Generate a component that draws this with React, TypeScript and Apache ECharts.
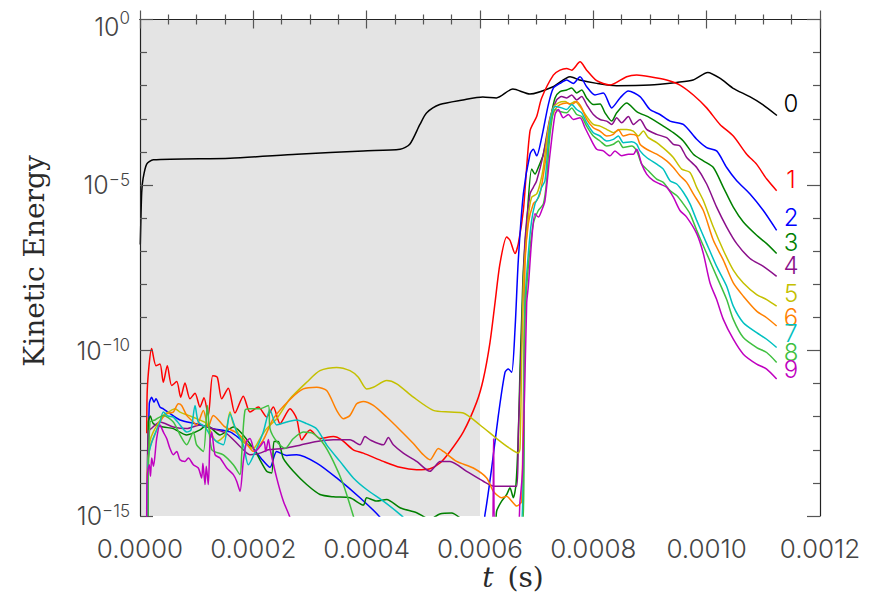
import React, { useEffect, useRef } from "react";
import * as echarts from "echarts";

// Time (s) and log10(kinetic energy), one array per mode.
const ke0: number[][] = [[0.0000005,-6.8],[3e-6,-5.22],[5.3e-6,-4.82],[1.18e-5,-4.37],[2.35e-5,-4.24],[1.59e-4,-4.19],[2.77e-4,-4.07],[3.94e-4,-3.97],[4.59e-4,-3.92],[4.76e-4,-3.77],[4.94e-4,-3.17],[5.06e-4,-2.82],[5.29e-4,-2.57],[5.70e-4,-2.43],[6.05e-4,-2.34],[6.29e-4,-2.37],[6.58e-4,-2.10],[6.88e-4,-2.25],[7.29e-4,-2.03],[7.59e-4,-1.73],[7.76e-4,-1.83],[8.06e-4,-1.93],[8.41e-4,-2.0],[9.0e-4,-1.98],[9.47e-4,-1.90],[9.76e-4,-1.83],[1.002e-3,-1.60],[1.024e-3,-1.78],[1.046e-3,-2.07],[1.076e-3,-2.33],[1.099e-3,-2.57],[1.124e-3,-2.90]];

const ke1: number[][] = [[1.2e-5,-12.5],[1.29e-5,-11.16],[2.06e-5,-9.94],[2.82e-5,-10.46],[3.53e-5,-10.41],[4.11e-5,-10.96],[4.82e-5,-10.46],[5.59e-5,-11.06],[6.48e-5,-10.94],[7.18e-5,-11.41],[7.94e-5,-10.98],[8.82e-5,-11.46],[9.71e-5,-11.29],[1.059e-4,-11.71],[1.129e-4,-11.43],[1.205e-4,-11.96],[1.283e-4,-10.76],[1.364e-4,-10.81],[1.442e-4,-11.46],[1.558e-4,-11.14],[1.676e-4,-11.89],[1.823e-4,-11.38],[1.941e-4,-11.86],[2.088e-4,-11.71],[2.236e-4,-12.01],[2.353e-4,-11.71],[2.471e-4,-12.21],[2.647e-4,-11.76],[2.765e-4,-12.06],[2.853e-4,-12.70],[3.0e-4,-12.40],[3.176e-4,-12.66],[3.412e-4,-12.60],[3.559e-4,-12.70],[3.764e-4,-13.00],[3.941e-4,-13.10],[4.294e-4,-13.35],[4.588e-4,-13.53],[4.882e-4,-13.60],[5.118e-4,-13.57],[5.294e-4,-13.40],[5.471e-4,-13.05],[5.706e-4,-12.46],[5.941e-4,-11.56],[6.059e-4,-10.86],[6.176e-4,-9.76],[6.265e-4,-8.56],[6.353e-4,-7.37],[6.471e-4,-6.57],[6.529e-4,-6.67],[6.618e-4,-7.07],[6.676e-4,-6.77],[6.765e-4,-5.77],[6.882e-4,-3.37],[7.0e-4,-2.93],[7.088e-4,-2.37],[7.294e-4,-1.68],[7.412e-4,-1.53],[7.53e-4,-1.48],[7.618e-4,-1.53],[7.765e-4,-1.28],[7.882e-4,-1.53],[8.059e-4,-1.85],[8.294e-4,-1.98],[8.588e-4,-1.73],[8.765e-4,-1.68],[9.0e-4,-1.73],[9.294e-4,-1.83],[9.529e-4,-1.98],[9.765e-4,-2.28],[1.0e-3,-2.67],[1.0235e-3,-3.17],[1.047e-3,-3.52],[1.0706e-3,-4.07],[1.088e-3,-4.37],[1.106e-3,-4.82],[1.1235e-3,-5.17]];

const ke2: number[][] = [[1.3e-5,-15.0],[1.64e-5,-11.61],[2.06e-5,-11.41],[2.47e-5,-11.56],[2.82e-5,-11.46],[3.53e-5,-11.71],[4.11e-5,-11.76],[7.06e-5,-12.10],[1.0e-4,-12.22],[1.288e-4,-12.36],[1.588e-4,-12.46],[1.823e-4,-12.75],[1.994e-4,-12.96],[2.153e-4,-13.29],[2.294e-4,-13.53],[2.412e-4,-13.05],[2.588e-4,-13.17],[2.765e-4,-13.15],[3.118e-4,-13.40],[3.471e-4,-13.85],[3.882e-4,-14.45],[4.235e-4,-15.04],[4.4e-4,-15.6],[6.0e-4,-15.6],[6.088e-4,-14.95],[6.206e-4,-13.55],[6.324e-4,-11.96],[6.441e-4,-10.66],[6.5e-4,-10.56],[6.559e-4,-10.66],[6.618e-4,-9.36],[6.676e-4,-7.27],[6.765e-4,-5.27],[6.882e-4,-4.07],[6.941e-4,-3.92],[7.0e-4,-4.12],[7.088e-4,-3.57],[7.206e-4,-2.57],[7.294e-4,-2.07],[7.412e-4,-1.93],[7.53e-4,-1.83],[7.647e-4,-1.93],[7.765e-4,-1.73],[7.882e-4,-2.03],[8.029e-4,-2.28],[8.176e-4,-2.22],[8.324e-4,-2.67],[8.471e-4,-2.37],[8.618e-4,-2.16],[8.824e-4,-2.33],[9.0e-4,-2.72],[9.176e-4,-2.87],[9.353e-4,-3.07],[9.588e-4,-3.17],[9.824e-4,-3.62],[1.0e-3,-3.87],[1.0176e-3,-3.97],[1.0353e-3,-4.47],[1.053e-3,-4.87],[1.0765e-3,-5.27],[1.1e-3,-5.77],[1.1235e-3,-6.37]];

const ke3: number[][] = [[1.41e-5,-15.0],[1.46e-5,-12.16],[1.82e-5,-11.98],[2.35e-5,-12.21],[4.11e-5,-12.31],[5.88e-5,-12.36],[8.24e-5,-12.55],[1.059e-4,-12.40],[1.176e-4,-12.25],[1.412e-4,-12.55],[1.647e-4,-12.31],[2.0e-4,-12.96],[2.235e-4,-13.65],[2.324e-4,-13.70],[2.365e-4,-12.75],[2.44e-4,-12.75],[2.529e-4,-13.26],[2.706e-4,-13.65],[2.941e-4,-14.05],[3.176e-4,-14.35],[3.412e-4,-14.42],[3.706e-4,-14.45],[3.941e-4,-14.67],[4.0e-4,-14.45],[4.176e-4,-14.55],[4.353e-4,-14.50],[4.588e-4,-14.75],[4.882e-4,-14.90],[5.118e-4,-15.1],[5.29e-4,-14.94],[5.5e-4,-14.91],[5.68e-4,-15.1],[6.0e-4,-15.5],[6.25e-4,-15.5],[6.294e-4,-14.85],[6.382e-4,-14.55],[6.471e-4,-14.35],[6.529e-4,-14.15],[6.588e-4,-14.45],[6.635e-4,-14.05],[6.676e-4,-12.55],[6.706e-4,-10.56],[6.735e-4,-9.06],[6.765e-4,-7.57],[6.824e-4,-6.17],[6.912e-4,-4.52],[6.971e-4,-4.67],[7.029e-4,-4.47],[7.118e-4,-4.07],[7.235e-4,-3.07],[7.324e-4,-2.37],[7.412e-4,-2.18],[7.53e-4,-2.13],[7.618e-4,-2.07],[7.706e-4,-2.22],[7.794e-4,-2.13],[7.882e-4,-2.37],[8.0e-4,-2.57],[8.118e-4,-2.55],[8.206e-4,-2.82],[8.324e-4,-3.07],[8.412e-4,-2.82],[8.588e-4,-2.52],[8.765e-4,-2.78],[9.0e-4,-2.97],[9.235e-4,-3.22],[9.412e-4,-3.42],[9.588e-4,-3.67],[9.765e-4,-4.07],[9.941e-4,-4.27],[1.0118e-3,-4.47],[1.0294e-3,-5.07],[1.047e-3,-5.67],[1.0647e-3,-6.12],[1.0882e-3,-6.52],[1.1059e-3,-6.77],[1.1235e-3,-7.07]];

const ke4: number[][] = [[1.24e-5,-15.0],[1.46e-5,-12.46],[2.1e-5,-12.34],[3.53e-5,-12.16],[5.88e-5,-12.31],[8.24e-5,-12.36],[1.059e-4,-12.25],[1.294e-4,-12.37],[1.529e-4,-12.51],[1.765e-4,-12.90],[1.941e-4,-13.15],[2.118e-4,-13.10],[2.265e-4,-13.0],[2.529e-4,-12.96],[2.824e-4,-12.86],[3.118e-4,-12.75],[3.412e-4,-12.70],[3.706e-4,-12.70],[3.882e-4,-12.85],[3.971e-4,-12.60],[4.059e-4,-12.70],[4.294e-4,-12.85],[4.382e-4,-12.63],[4.47e-4,-12.85],[4.647e-4,-13.10],[4.882e-4,-13.35],[5.118e-4,-13.65],[5.206e-4,-13.50],[5.294e-4,-13.35],[5.471e-4,-13.35],[5.765e-4,-13.65],[6.059e-4,-13.95],[6.253e-4,-14.10],[6.647e-4,-14.10],[6.676e-4,-12.55],[6.735e-4,-9.56],[6.794e-4,-6.67],[6.882e-4,-5.27],[6.941e-4,-5.07],[7.0e-4,-4.87],[7.118e-4,-4.07],[7.235e-4,-2.97],[7.353e-4,-2.43],[7.441e-4,-2.33],[7.53e-4,-2.37],[7.618e-4,-2.28],[7.706e-4,-2.43],[7.794e-4,-2.33],[7.882e-4,-2.57],[8.0e-4,-2.87],[8.118e-4,-3.02],[8.235e-4,-3.07],[8.324e-4,-3.17],[8.412e-4,-2.97],[8.5e-4,-3.12],[8.618e-4,-2.93],[8.706e-4,-3.17],[8.824e-4,-3.02],[8.941e-4,-3.32],[9.118e-4,-3.47],[9.294e-4,-3.57],[9.412e-4,-3.77],[9.529e-4,-3.82],[9.647e-4,-4.17],[9.824e-4,-4.47],[1.0e-3,-4.97],[1.0176e-3,-5.67],[1.0353e-3,-6.27],[1.053e-3,-6.77],[1.0765e-3,-7.22],[1.1e-3,-7.46],[1.1235e-3,-7.76]];

const ke5: number[][] = [[1.18e-5,-13.95],[1.76e-5,-12.75],[2.35e-5,-12.46],[4.11e-5,-11.96],[5.0e-5,-11.86],[6.18e-5,-11.76],[7.06e-5,-11.86],[8.53e-5,-11.96],[1.0e-4,-12.06],[1.176e-4,-12.21],[1.353e-4,-12.75],[1.5e-4,-12.55],[1.588e-4,-11.86],[1.647e-4,-12.21],[1.823e-4,-12.75],[2.0e-4,-12.96],[2.118e-4,-12.66],[2.235e-4,-12.36],[2.412e-4,-12.06],[2.647e-4,-11.46],[2.941e-4,-10.96],[3.176e-4,-10.61],[3.471e-4,-10.51],[3.706e-4,-10.61],[3.853e-4,-10.81],[4.0e-4,-11.16],[4.118e-4,-11.11],[4.353e-4,-10.91],[4.53e-4,-11.01],[4.824e-4,-11.41],[5.176e-4,-11.81],[5.471e-4,-11.86],[5.706e-4,-11.89],[6.0e-4,-12.25],[6.294e-4,-12.66],[6.529e-4,-12.96],[6.676e-4,-13.10],[6.706e-4,-12.96],[6.765e-4,-8.06],[6.853e-4,-5.97],[6.912e-4,-5.37],[7.0e-4,-5.27],[7.059e-4,-4.97],[7.118e-4,-4.47],[7.206e-4,-3.27],[7.294e-4,-2.67],[7.382e-4,-2.52],[7.5e-4,-2.48],[7.588e-4,-2.55],[7.676e-4,-2.48],[7.765e-4,-2.63],[7.882e-4,-2.93],[8.0e-4,-3.17],[8.118e-4,-3.22],[8.235e-4,-3.32],[8.353e-4,-3.42],[8.471e-4,-3.32],[8.588e-4,-3.32],[8.706e-4,-3.37],[8.794e-4,-3.52],[8.882e-4,-3.37],[8.971e-4,-3.57],[9.118e-4,-3.72],[9.294e-4,-3.97],[9.412e-4,-4.17],[9.559e-4,-4.52],[9.706e-4,-4.62],[9.824e-4,-5.07],[9.941e-4,-5.47],[1.0118e-3,-6.27],[1.0294e-3,-6.97],[1.047e-3,-7.57],[1.0647e-3,-7.96],[1.0882e-3,-8.31],[1.1059e-3,-8.46],[1.1235e-3,-8.66]];

const ke6: number[][] = [[1.3e-5,-15.0],[1.46e-5,-13.25],[1.88e-5,-12.85],[2.35e-5,-12.66],[3.53e-5,-12.16],[4.71e-5,-11.91],[5.88e-5,-11.86],[6.76e-5,-11.61],[7.35e-5,-11.66],[8.24e-5,-11.96],[9.12e-5,-12.11],[1.0e-4,-12.25],[1.118e-4,-11.81],[1.206e-4,-12.31],[1.294e-4,-11.96],[1.5e-4,-12.31],[1.676e-4,-12.46],[1.823e-4,-12.66],[2.0e-4,-13.05],[2.176e-4,-12.70],[2.353e-4,-12.06],[2.647e-4,-11.48],[2.882e-4,-11.16],[3.118e-4,-11.11],[3.294e-4,-11.21],[3.471e-4,-11.81],[3.588e-4,-12.06],[3.706e-4,-11.96],[3.824e-4,-11.61],[3.941e-4,-11.54],[4.118e-4,-11.66],[4.353e-4,-12.01],[4.588e-4,-12.40],[4.824e-4,-12.81],[5.0e-4,-13.15],[5.118e-4,-13.30],[5.265e-4,-12.96],[5.353e-4,-13.05],[5.588e-4,-13.35],[5.882e-4,-13.55],[6.118e-4,-13.85],[6.235e-4,-14.25],[6.382e-4,-14.45],[6.471e-4,-14.40],[6.559e-4,-14.55],[6.647e-4,-14.70],[6.735e-4,-14.55],[6.794e-4,-7.46],[6.853e-4,-6.17],[6.941e-4,-5.57],[7.0e-4,-5.47],[7.059e-4,-5.27],[7.147e-4,-4.37],[7.235e-4,-3.17],[7.324e-4,-2.72],[7.412e-4,-2.57],[7.53e-4,-2.52],[7.618e-4,-2.57],[7.706e-4,-2.48],[7.794e-4,-2.67],[7.882e-4,-3.02],[8.0e-4,-3.27],[8.118e-4,-3.37],[8.235e-4,-3.52],[8.353e-4,-3.47],[8.441e-4,-3.32],[8.529e-4,-3.52],[8.647e-4,-3.47],[8.765e-4,-3.52],[8.824e-4,-3.77],[8.941e-4,-3.92],[9.118e-4,-4.07],[9.294e-4,-4.27],[9.412e-4,-4.47],[9.529e-4,-4.72],[9.647e-4,-4.92],[9.765e-4,-5.27],[9.941e-4,-5.77],[1.0118e-3,-6.67],[1.0294e-3,-7.27],[1.047e-3,-7.96],[1.0647e-3,-8.36],[1.0882e-3,-8.81],[1.1059e-3,-9.01],[1.1235e-3,-9.26]];

const ke7: number[][] = [[1.3e-5,-15.0],[1.46e-5,-13.25],[2.12e-5,-12.75],[3.53e-5,-12.16],[4.11e-5,-11.86],[4.94e-5,-11.98],[5.88e-5,-12.01],[7.06e-5,-12.25],[8.24e-5,-12.46],[9.0e-5,-12.40],[9.71e-5,-11.66],[1.029e-4,-12.16],[1.147e-4,-12.31],[1.235e-4,-12.55],[1.353e-4,-12.75],[1.471e-4,-12.85],[1.588e-4,-11.92],[1.706e-4,-12.46],[1.823e-4,-12.85],[1.912e-4,-13.45],[2.059e-4,-12.96],[2.176e-4,-12.46],[2.294e-4,-11.80],[2.412e-4,-12.25],[2.588e-4,-12.16],[2.765e-4,-12.10],[2.941e-4,-12.21],[3.118e-4,-12.37],[3.294e-4,-12.85],[3.529e-4,-13.35],[3.765e-4,-13.85],[4.0e-4,-14.20],[4.294e-4,-14.55],[4.588e-4,-14.95],[4.676e-4,-15.1],[4.85e-4,-15.5],[6.706e-4,-15.5],[6.794e-4,-8.56],[6.853e-4,-7.07],[6.912e-4,-6.07],[6.971e-4,-5.57],[7.029e-4,-5.37],[7.088e-4,-5.07],[7.147e-4,-4.87],[7.235e-4,-3.17],[7.324e-4,-2.63],[7.441e-4,-2.67],[7.53e-4,-2.72],[7.618e-4,-2.57],[7.706e-4,-2.72],[7.794e-4,-2.82],[7.882e-4,-3.12],[8.0e-4,-3.42],[8.118e-4,-3.52],[8.235e-4,-3.67],[8.353e-4,-3.62],[8.441e-4,-3.52],[8.529e-4,-3.72],[8.676e-4,-3.69],[8.765e-4,-3.77],[8.824e-4,-3.97],[8.941e-4,-4.17],[9.118e-4,-4.37],[9.235e-4,-4.52],[9.353e-4,-4.87],[9.471e-4,-4.97],[9.588e-4,-5.22],[9.706e-4,-5.57],[9.824e-4,-6.07],[1.0e-3,-6.77],[1.0176e-3,-7.46],[1.0353e-3,-8.06],[1.047e-3,-8.66],[1.0647e-3,-9.16],[1.0882e-3,-9.46],[1.1059e-3,-9.66],[1.1235e-3,-9.91]];

const ke8: number[][] = [[1.41e-5,-15.0],[1.76e-5,-12.16],[2.65e-5,-12.10],[4.11e-5,-11.96],[5.88e-5,-12.16],[7.06e-5,-12.55],[8.24e-5,-12.85],[9.41e-5,-12.46],[1.0e-4,-12.85],[1.118e-4,-13.05],[1.188e-4,-11.66],[1.265e-4,-12.99],[1.471e-4,-13.15],[1.647e-4,-13.45],[1.765e-4,-13.75],[1.794e-4,-13.15],[1.853e-4,-11.81],[1.941e-4,-11.76],[2.118e-4,-11.76],[2.265e-4,-11.66],[2.294e-4,-12.36],[2.412e-4,-12.75],[2.559e-4,-12.96],[2.706e-4,-12.66],[2.882e-4,-12.46],[3.059e-4,-12.51],[3.235e-4,-12.81],[3.412e-4,-13.35],[3.588e-4,-14.05],[3.765e-4,-15.0],[3.85e-4,-15.5],[6.74e-4,-15.5],[6.794e-4,-9.06],[6.853e-4,-7.46],[6.941e-4,-6.17],[7.029e-4,-5.77],[7.118e-4,-5.57],[7.176e-4,-4.87],[7.235e-4,-3.47],[7.324e-4,-2.72],[7.412e-4,-2.78],[7.53e-4,-2.82],[7.618e-4,-2.67],[7.706e-4,-2.87],[7.794e-4,-2.93],[7.882e-4,-3.22],[8.0e-4,-3.52],[8.118e-4,-3.67],[8.235e-4,-3.82],[8.353e-4,-3.77],[8.441e-4,-3.67],[8.529e-4,-3.87],[8.676e-4,-3.82],[8.765e-4,-3.97],[8.853e-4,-4.37],[8.971e-4,-4.57],[9.118e-4,-4.82],[9.235e-4,-4.92],[9.353e-4,-5.17],[9.471e-4,-5.32],[9.588e-4,-5.57],[9.706e-4,-5.87],[9.824e-4,-6.37],[1.0e-3,-7.07],[1.0176e-3,-7.76],[1.0353e-3,-8.46],[1.047e-3,-9.06],[1.0647e-3,-9.61],[1.0882e-3,-9.91],[1.1059e-3,-10.06],[1.1235e-3,-10.36]];

const ke9: number[][] = [[1.18e-5,-15.05],[1.29e-5,-13.75],[1.64e-5,-13.45],[1.85e-5,-13.80],[2.06e-5,-13.25],[2.38e-5,-13.50],[2.94e-5,-12.66],[3.53e-5,-12.25],[4.11e-5,-12.46],[4.71e-5,-12.66],[5.29e-5,-12.96],[5.88e-5,-13.15],[6.48e-5,-13.05],[7.06e-5,-13.30],[7.94e-5,-13.35],[8.53e-5,-13.25],[9.41e-5,-13.45],[1.029e-4,-13.55],[1.088e-4,-13.85],[1.11e-4,-13.41],[1.147e-4,-14.05],[1.17e-4,-13.50],[1.205e-4,-14.05],[1.235e-4,-12.75],[1.265e-4,-12.46],[1.324e-4,-13.15],[1.412e-4,-13.25],[1.53e-4,-13.55],[1.647e-4,-13.75],[1.706e-4,-13.95],[1.765e-4,-14.25],[1.823e-4,-13.35],[1.882e-4,-12.75],[1.941e-4,-12.66],[2.029e-4,-13.05],[2.118e-4,-12.90],[2.188e-4,-12.75],[2.22e-4,-13.05],[2.265e-4,-12.69],[2.294e-4,-12.96],[2.412e-4,-13.85],[2.529e-4,-14.55],[2.647e-4,-15.05],[2.7e-4,-15.5],[6.21e-4,-15.5],[6.24e-4,-12.66],[6.26e-4,-15.5],[6.64e-4,-15.5],[6.706e-4,-14.55],[6.753e-4,-13.55],[6.824e-4,-8.56],[6.853e-4,-8.06],[6.912e-4,-6.67],[6.971e-4,-5.87],[7.029e-4,-5.97],[7.088e-4,-5.77],[7.147e-4,-5.47],[7.235e-4,-4.07],[7.324e-4,-2.87],[7.382e-4,-2.72],[7.471e-4,-2.97],[7.559e-4,-2.87],[7.647e-4,-3.02],[7.765e-4,-2.97],[7.853e-4,-3.27],[7.941e-4,-3.57],[8.059e-4,-3.92],[8.176e-4,-3.97],[8.294e-4,-4.12],[8.382e-4,-3.97],[8.5e-4,-4.12],[8.618e-4,-4.07],[8.706e-4,-4.07],[8.765e-4,-3.92],[8.853e-4,-4.37],[8.941e-4,-4.67],[9.059e-4,-4.87],[9.176e-4,-4.97],[9.294e-4,-5.07],[9.412e-4,-5.37],[9.529e-4,-5.77],[9.647e-4,-5.97],[9.824e-4,-6.47],[9.941e-4,-7.07],[1.0059e-3,-7.96],[1.0176e-3,-8.46],[1.0294e-3,-9.06],[1.047e-3,-9.66],[1.0647e-3,-10.11],[1.0882e-3,-10.41],[1.1059e-3,-10.56],[1.1235e-3,-10.86]];

const modeNames = ["0", "1", "2", "3", "4", "5", "6", "7", "8", "9"];
const modeColors = ["#000000", "#ff0000", "#0000ff", "#008000", "#8b108b", "#c4c000", "#ff8000", "#00c0c0", "#40c040", "#c000c0"];
const modeSeries = [ke0, ke1, ke2, ke3, ke4, ke5, ke6, ke7, ke8, ke9];
// Right-hand curve labels: vertical position given in log10(E)
const labelLogE = [-2.66, -4.95, -6.07, -6.82, -7.52, -8.36, -9.06, -9.56, -10.11, -10.61];
const xTicks = { min: 0, max: 0.0012, step: 0.0002 };
const yDecades = { min: -15, max: 0, step: 5 };
const shadedUntil = 0.0006;

const tickFont = "Inter, 'DejaVu Sans', sans-serif";
const tickColor = "#444";

export default function App() {
  const ref = useRef<HTMLDivElement>(null);
  useEffect(() => {
    if (!ref.current) return;
    const chart = echarts.init(ref.current, undefined, { renderer: "svg" });
    const gridL = 140, gridT = 14, gridW = 680, gridH = 502;
    const axisCommon = {
      min: xTicks.min,
      max: xTicks.max,
      interval: xTicks.step,
      z: 10,
      splitLine: { show: false },
      axisLine: { show: true, lineStyle: { color: "#222", width: 1.2 } },
      axisTick: { show: true, inside: true, length: 9, lineStyle: { color: "#555", width: 1.2 } },
      minorTick: { show: true, splitNumber: 4, length: 5, lineStyle: { color: "#555", width: 1.2 } },
    };
    const yCommon = {
      type: "value",
      min: yDecades.min,
      max: yDecades.max,
      interval: yDecades.step,
      z: 10,
      splitLine: { show: false },
      axisLine: { show: true, onZero: false, lineStyle: { color: "#222", width: 1.2 } },
      axisTick: { show: true, inside: true, length: 13, lineStyle: { color: "#555", width: 1.2 } },
      minorTick: { show: true, splitNumber: 5, length: 7, lineStyle: { color: "#555", width: 1.2 } },
    };
    const supText = (v: number) => (v === 0 ? "0" : "\u2212" + String(-v));
    const series: any[] = [
      {
        type: "line",
        data: [[0, -20]],
        z: 1,
        silent: true,
        symbol: "none",
        lineStyle: { opacity: 0 },
        markArea: {
          silent: true,
          itemStyle: { color: "#e4e4e4" },
          data: [[{ xAxis: 0 }, { xAxis: shadedUntil }]],
        },
      },
    ];
    modeSeries.forEach((d, i) => {
      series.push({
        type: "line",
        name: modeNames[i],
        data: d,
        z: 2 + i,
        symbol: "none",
        showSymbol: false,
        clip: true,
        smooth: 0.25,
        lineStyle: { color: modeColors[i], width: 1.5 },
        itemStyle: { color: modeColors[i] },
      });
    });
    const yToPx = (v: number) => gridT + ((yDecades.max - v) / (yDecades.max - yDecades.min)) * gridH;
    const graphics: any[] = modeNames.map((n, i) => ({
      type: "text",
      x: 791,
      y: yToPx(labelLogE[i]),
      z: 20,
      style: {
        text: n,
        fill: modeColors[i],
        font: `300 24px ${tickFont}`,
        textAlign: "center",
        textVerticalAlign: "middle",
      },
    }));
    graphics.push({
      type: "text",
      x: 34,
      y: 261,
      rotation: Math.PI / 2,
      z: 20,
      style: {
        text: "Kinetic Energy",
        fill: "#2a2a2a",
        font: "28px 'DejaVu Serif', serif",
        textAlign: "center",
        textVerticalAlign: "middle",
      },
    });
    graphics.push({
      type: "text",
      x: 513,
      y: 577,
      z: 20,
      style: {
        text: "{i|t}{r|\u2002(s)}",
        textAlign: "center",
        textVerticalAlign: "middle",
        rich: {
          i: { font: "italic 28px 'DejaVu Serif', serif", fill: "#2a2a2a" },
          r: { font: "28px 'DejaVu Serif', serif", fill: "#2a2a2a" },
        },
      },
    });

    const base = { fontFamily: tickFont, fontWeight: 300, fontSize: 25, color: tickColor, lineHeight: 28 };
    const sup = { fontFamily: tickFont, fontWeight: 300, fontSize: 17, color: tickColor, verticalAlign: "top", lineHeight: 28, padding: [0, 0, 10, 0] };

    chart.setOption({
      animation: false,
      backgroundColor: "#ffffff",
      grid: { left: gridL, top: gridT, width: gridW, height: gridH, containLabel: false },
      xAxis: [
        {
          type: "value",
          position: "bottom",
          ...axisCommon,
          axisLabel: {
            show: true,
            margin: 19,
            fontFamily: tickFont,
            fontWeight: 300,
            fontSize: 26,
            color: tickColor,
            formatter: (v: number) => v.toFixed(4),
          },
        },
        { type: "value", position: "top", ...axisCommon, axisLabel: { show: false } },
      ],
      yAxis: [
        {
          ...yCommon,
          position: "left",
          axisLabel: {
            show: true,
            margin: 10,
            formatter: (v: number) => (v === 0 ? `{b0|10}{s0|0}` : `{b|10}{s|${supText(v)}}`),
            rich: {
              b: base,
              s: sup,
              b0: { ...base, padding: [14, 0, 0, 0] },
              s0: { ...sup, padding: [4, 0, 0, 0] },
            },
          },
        },
        { ...yCommon, position: "right", axisLabel: { show: false } },
      ],
      series,
      graphic: graphics,
    });
    return () => chart.dispose();
  }, []);
  return <div ref={ref} style={{ position: "fixed", left: 0, top: 0, width: 879, height: 594 }} />;
}
